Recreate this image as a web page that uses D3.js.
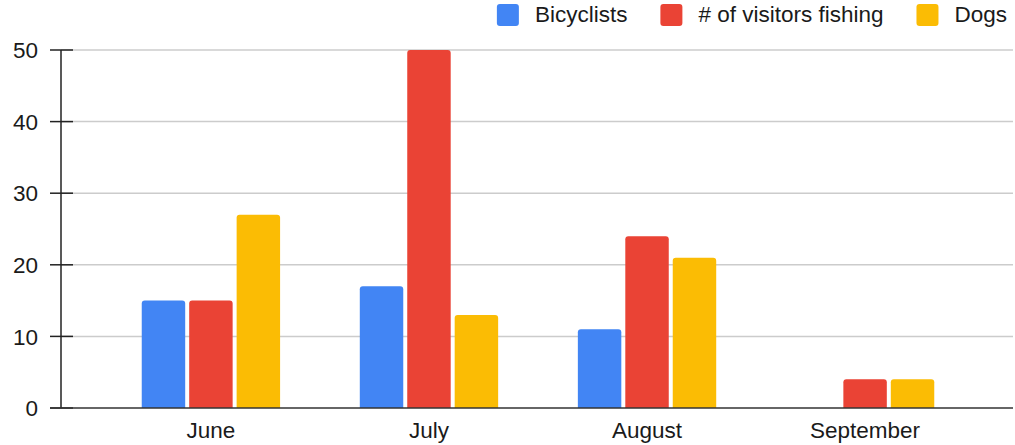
<!DOCTYPE html>
<html lang="en">
<head>
<meta charset="UTF-8">
<title>Visitors by month</title>
<style>
    body { margin: 0; background: #fff; }
    svg { display: block; font-family: "Liberation Sans", Arial, sans-serif; }
</style>
</head>
<body>
<div id="chart"></div>
<script src="https://d3js.org/d3.v7.min.js"></script>
<script>
    const months = ["June", "July", "August", "September"];
    const seriesNames = ["Bicyclists", "# of visitors fishing", "Dogs"];
    const bicyclists = [15, 17, 11, 0];
    const fishing = [15, 50, 24, 4];
    const dogs = [27, 13, 21, 4];
    const yTicks = [0, 10, 20, 30, 40, 50];
    const colors = ["#4285F4", "#EA4335", "#FBBC04"];

    const width = 1015, height = 445;
    const plot = { left: 61, right: 1013, top: 50, bottom: 408 };
    const fontSize = 22.5;

    const svg = d3.select("#chart").append("svg")
        .attr("width", width)
        .attr("height", height);

    const rows = months.map((m, i) => ({
        month: m,
        values: [bicyclists[i], fishing[i], dogs[i]]
    }));

    const x0 = d3.scaleBand().domain(months).range([plot.left, 1015])
        .paddingInner(0).paddingOuter(0.1875);
    const x1 = d3.scaleBand().domain(d3.range(seriesNames.length))
        .range([0, x0.bandwidth()]).paddingInner(0.084).paddingOuter(0.84);
    const y = d3.scaleLinear().domain([0, 50]).range([plot.bottom, plot.top]);

    // gridlines
    svg.append("g").selectAll("line")
        .data(yTicks.filter(d => d > 0))
        .join("line")
        .attr("x1", plot.left).attr("x2", plot.right)
        .attr("y1", d => y(d)).attr("y2", d => y(d))
        .attr("stroke", "#cccccc").attr("stroke-width", 1.5);

    // bars with rounded tops
    const barPath = (x, w, y0, y1, r) => {
        const h = y0 - y1;
        if (h <= 0) return "";
        r = Math.min(r, h, w / 2);
        return `M${x},${y0}V${y1 + r}Q${x},${y1} ${x + r},${y1}H${x + w - r}Q${x + w},${y1} ${x + w},${y1 + r}V${y0}Z`;
    };

    const groups = svg.append("g").selectAll("g")
        .data(rows)
        .join("g")
        .attr("transform", d => `translate(${x0(d.month)},0)`);

    groups.selectAll("path")
        .data(d => d.values.map((v, k) => ({ k, v })))
        .join("path")
        .attr("fill", d => colors[d.k])
        .attr("d", d => barPath(x1(d.k), x1.bandwidth(), y(0), y(d.v), 3));

    // y axis
    const yAxis = svg.append("g");
    yAxis.append("line")
        .attr("x1", plot.left).attr("x2", plot.left)
        .attr("y1", plot.top).attr("y2", plot.bottom)
        .attr("stroke", "#222").attr("stroke-width", 1.5);
    yAxis.selectAll(".tick")
        .data(yTicks)
        .join("line")
        .attr("class", "tick")
        .attr("x1", 50).attr("x2", 73)
        .attr("y1", d => y(d)).attr("y2", d => y(d))
        .attr("stroke", "#222").attr("stroke-width", 1.5);
    yAxis.selectAll("text")
        .data(yTicks)
        .join("text")
        .attr("x", 38)
        .attr("y", d => y(d))
        .attr("dy", "0.36em")
        .attr("text-anchor", "end")
        .attr("font-size", fontSize)
        .attr("fill", "#1a1a1a")
        .text(d => d);

    // x axis baseline
    svg.append("line")
        .attr("x1", 50).attr("x2", plot.right)
        .attr("y1", plot.bottom).attr("y2", plot.bottom)
        .attr("stroke", "#333").attr("stroke-width", 1.5);

    svg.append("g").selectAll("text")
        .data(months)
        .join("text")
        .attr("x", d => x0(d) + x0.bandwidth() / 2)
        .attr("y", 438)
        .attr("text-anchor", "middle")
        .attr("font-size", fontSize)
        .attr("fill", "#1a1a1a")
        .text(d => d);

    // legend, laid out right to left
    const legend = svg.append("g");
    let cursor = 1007;
    for (let i = seriesNames.length - 1; i >= 0; i--) {
        const t = legend.append("text")
            .attr("y", 22)
            .attr("font-size", fontSize)
            .attr("fill", "#1a1a1a")
            .text(seriesNames[i]);
        const w = t.node().getComputedTextLength();
        t.attr("x", cursor - w);
        legend.append("rect")
            .attr("x", cursor - w - 38).attr("y", 4)
            .attr("width", 22).attr("height", 22)
            .attr("rx", 3)
            .attr("fill", colors[i]);
        cursor = cursor - w - 38 - 33;
    }
</script>
</body>
</html>
